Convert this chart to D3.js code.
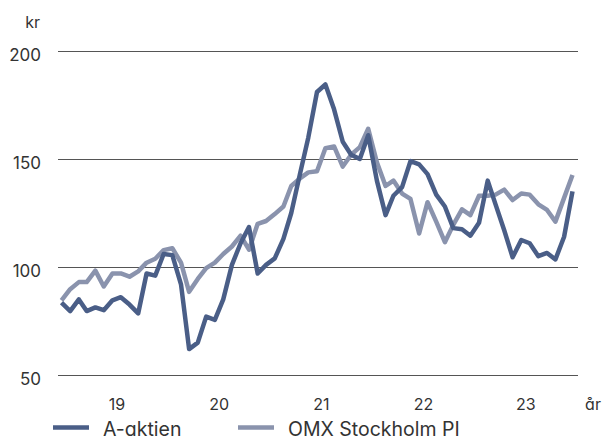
<!DOCTYPE html>
<html>
<head>
<meta charset="utf-8">
<script src="https://cdn.jsdelivr.net/npm/d3@7"></script>
<style>
  html, body { margin: 0; padding: 0; background: #ffffff; }
  svg { display: block; font-family: Inter, "Noto Sans", sans-serif; font-feature-settings: "cv11"; }
  text { fill: #333333; }
</style>
</head>
<body>
<svg id="chart" width="606" height="441"></svg>
<script>
// Monthly closing levels, December 2018 through December 2023
const firstMonth = new Date(2018, 11, 1);

const aAktien = [
  83.5, 79.6, 85, 79.6, 81.3, 80, 84.6, 86, 82.6, 78.5, 97, 96, 106,
  105.5, 92, 62, 65, 77, 75.5, 85, 101, 111, 118.5, 97, 101,
  104, 113, 125, 143, 160, 181, 184.5, 173, 158, 152, 150, 161,
  140, 124, 133, 137, 149, 147.5, 143, 133.5, 128, 118, 117.5, 114.5,
  120.5, 140, 129, 117, 104.5, 112.5, 111, 105, 106.5, 103.5, 114, 135
];

const omxPI = [
  84.5, 89.7, 93, 93, 98.3, 91, 97, 97, 95.5, 98, 102, 103.8, 107.8,
  108.7, 102, 88.5, 94.5, 99.5, 102, 106, 109.5, 114.5, 108, 120, 121.3,
  124.5, 128, 137.5, 141, 143.8, 144.3, 155, 155.8, 146.5, 152, 155.5, 164,
  148.5, 137.5, 140, 134, 131.5, 115.5, 130, 121, 111.5, 119.5, 126.7, 124,
  133, 133, 133.5, 135.8, 131, 134, 133.5, 129, 126.4, 121, 132, 142.6
];

const yTicks = [50, 100, 150, 200];
const yearLabels = ["19", "20", "21", "22", "23"];
const yearValues = [2019, 2020, 2021, 2022, 2023];
const seriesNames = ["A-aktien", "OMX Stockholm PI"];
const seriesColors = ["#4a5e87", "#8a93ad"];

const months = aAktien.map((_, i) => d3.timeMonth.offset(firstMonth, i));

const svg = d3.select("#chart");

const x = d3.scaleTime()
  .domain([months[0], months[months.length - 1]])
  .range([61.5, 572.5]);

const y = d3.scaleLinear()
  .domain([50, 200])
  .range([375, 51]);

// Horizontal gridlines
svg.append("g")
  .selectAll("line")
  .data(yTicks)
  .join("line")
  .attr("x1", 58)
  .attr("x2", 578)
  .attr("y1", d => Math.round(y(d)) + 0.5)
  .attr("y2", d => Math.round(y(d)) + 0.5)
  .attr("stroke", "#555555")
  .attr("stroke-width", 1);

// Y tick labels
svg.append("g")
  .selectAll("text")
  .data(yTicks)
  .join("text")
  .attr("x", 41)
  .attr("y", d => y(d) + 10)
  .attr("text-anchor", "end")
  .attr("font-size", 17)
  .text(d => d);

svg.append("text")
  .attr("x", 40)
  .attr("y", 28)
  .attr("text-anchor", "end")
  .attr("font-size", 16)
  .text("kr");

// Year labels, centred on each calendar year's months
svg.append("g")
  .selectAll("text")
  .data(yearValues)
  .join("text")
  .attr("x", (d, i) => (x(new Date(d, 0, 1)) + x(new Date(d, 11, 1))) / 2)
  .attr("y", 410)
  .attr("text-anchor", "middle")
  .attr("font-size", 16)
  .text((d, i) => yearLabels[i]);

svg.append("text")
  .attr("x", 593)
  .attr("y", 410)
  .attr("text-anchor", "middle")
  .attr("font-size", 16)
  .text("år");

// Series lines (index drawn beneath the share)
const line = d3.line()
  .x((d, i) => x(months[i]))
  .y(d => y(d));

[omxPI, aAktien].forEach((values, k) => {
  svg.append("path")
    .datum(values)
    .attr("d", line)
    .attr("fill", "none")
    .attr("stroke", seriesColors[1 - k])
    .attr("stroke-width", 4.5)
    .attr("stroke-linejoin", "round")
    .attr("stroke-linecap", "butt");
});

// Legend
const legendX = [53, 238];
const legend = svg.append("g")
  .selectAll("g")
  .data(seriesNames)
  .join("g")
  .attr("transform", (d, i) => `translate(${legendX[i]},0)`);

legend.append("line")
  .attr("x1", 0)
  .attr("x2", 36)
  .attr("y1", 427.5)
  .attr("y2", 427.5)
  .attr("stroke", (d, i) => seriesColors[i])
  .attr("stroke-width", 4.5);

legend.append("text")
  .attr("x", 50)
  .attr("y", 436)
  .attr("font-size", 19.5)
  .text(d => d);
</script>
</body>
</html>
